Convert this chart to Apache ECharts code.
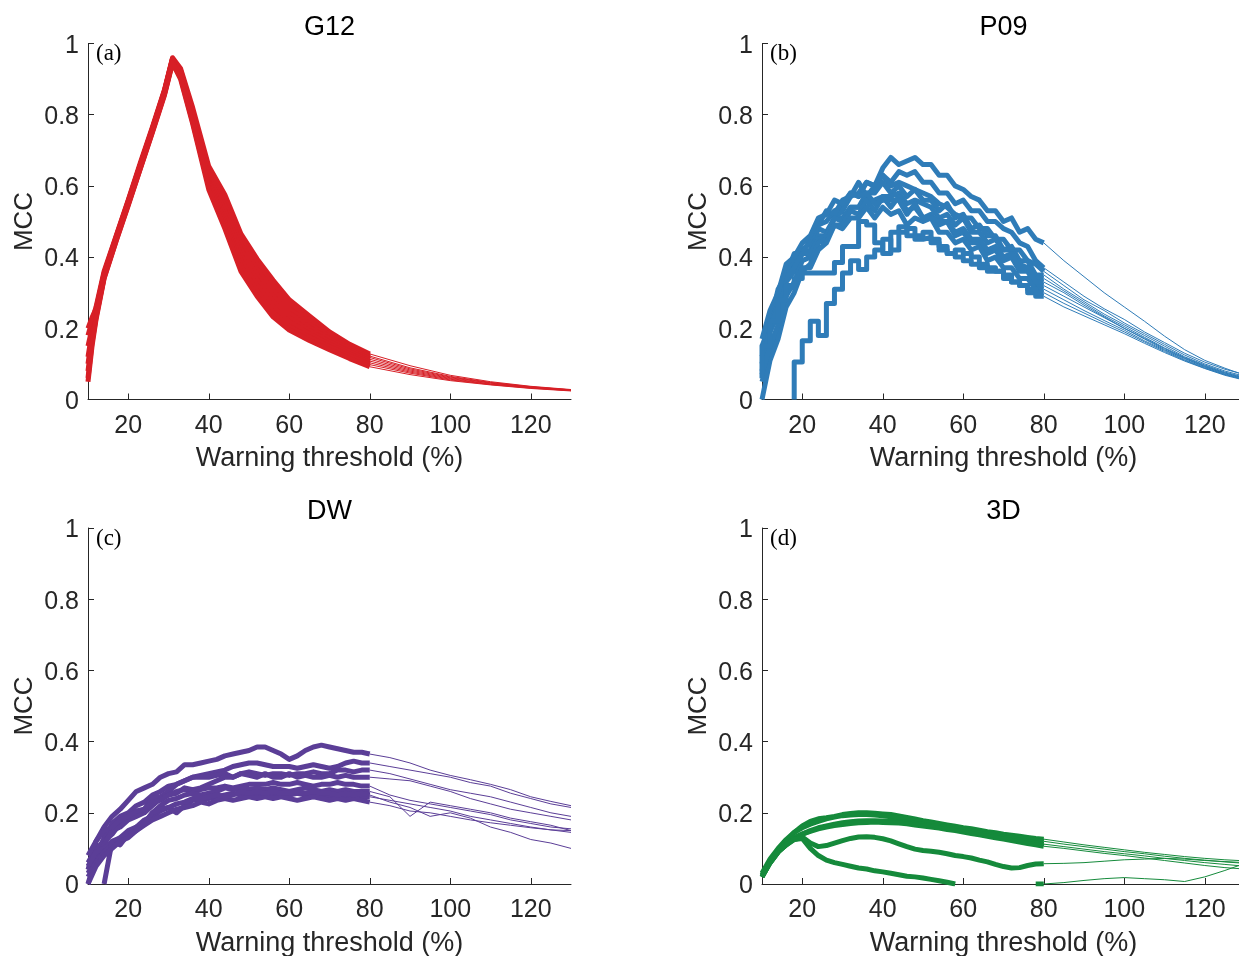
<!DOCTYPE html>
<html>
<head>
<meta charset="utf-8">
<script src="https://cdn.jsdelivr.net/npm/echarts@6/dist/echarts.min.js"></script>
<style>
  html, body { margin: 0; padding: 0; background: #fff; }
  #chart { width: 1239px; height: 956px; }
</style>
</head>
<body>
<div id="chart"></div>
<script>
// ---------- data ----------
// x positions (warning threshold, %) for the thick (10-80) and thin (80-130) parts
const xThickG12 = [10, 11, 12, 14, 17, 20, 23, 26, 29, 31, 33, 36, 40, 44, 48, 52, 56, 60, 65, 70, 75, 80];
const xThinG12 = [80, 90, 100, 110, 120, 130];
const xThick = [10, 12, 14, 16, 18, 20, 22, 24, 26, 28, 30, 32, 34, 36, 38, 40, 42, 44, 46, 48, 50, 52, 54, 56, 58, 60, 62, 64, 66, 68, 70, 72, 74, 76, 78, 80];
const xThin = [80, 85, 90, 95, 100, 105, 110, 115, 120, 125, 130];
const xTicks = [20, 40, 60, 80, 100, 120];

// G12 - MCC curves
const g12Thick = [
  [0.18, 0.22, 0.26, 0.36, 0.46, 0.56, 0.665, 0.765, 0.87, 0.96, 0.93, 0.82, 0.655, 0.575, 0.465, 0.395, 0.335, 0.28, 0.235, 0.19, 0.155, 0.128],
  [0.15, 0.2, 0.25, 0.355, 0.458, 0.558, 0.66, 0.762, 0.868, 0.958, 0.925, 0.81, 0.645, 0.56, 0.45, 0.38, 0.32, 0.268, 0.222, 0.183, 0.15, 0.122],
  [0.12, 0.19, 0.245, 0.35, 0.455, 0.555, 0.658, 0.76, 0.865, 0.955, 0.92, 0.8, 0.635, 0.545, 0.435, 0.365, 0.305, 0.255, 0.212, 0.176, 0.145, 0.118],
  [0.1, 0.18, 0.24, 0.348, 0.452, 0.553, 0.655, 0.758, 0.862, 0.952, 0.915, 0.795, 0.625, 0.53, 0.42, 0.35, 0.29, 0.242, 0.202, 0.17, 0.14, 0.113],
  [0.08, 0.17, 0.235, 0.345, 0.45, 0.55, 0.652, 0.755, 0.86, 0.95, 0.91, 0.79, 0.615, 0.515, 0.405, 0.335, 0.275, 0.23, 0.193, 0.162, 0.134, 0.108],
  [0.2, 0.23, 0.255, 0.352, 0.455, 0.556, 0.66, 0.76, 0.866, 0.957, 0.92, 0.8, 0.61, 0.5, 0.39, 0.32, 0.26, 0.218, 0.184, 0.155, 0.128, 0.103],
  [0.06, 0.16, 0.23, 0.342, 0.447, 0.548, 0.65, 0.752, 0.858, 0.948, 0.905, 0.78, 0.6, 0.49, 0.375, 0.305, 0.245, 0.205, 0.175, 0.148, 0.122, 0.098],
  [0.05, 0.15, 0.225, 0.34, 0.445, 0.545, 0.648, 0.75, 0.855, 0.945, 0.9, 0.775, 0.59, 0.48, 0.36, 0.29, 0.232, 0.195, 0.166, 0.14, 0.115, 0.092]
];
const g12Thin = [
  [0.128, 0.095, 0.068, 0.05, 0.037, 0.028],
  [0.122, 0.089, 0.065, 0.048, 0.036, 0.027],
  [0.118, 0.086, 0.063, 0.047, 0.035, 0.027],
  [0.113, 0.083, 0.061, 0.046, 0.034, 0.026],
  [0.108, 0.08, 0.059, 0.044, 0.033, 0.026],
  [0.103, 0.077, 0.057, 0.043, 0.033, 0.025],
  [0.098, 0.074, 0.055, 0.042, 0.032, 0.025],
  [0.092, 0.07, 0.053, 0.041, 0.031, 0.024]
];

// P09 - MCC curves (the last two are stepped)
const p09Thick = [
  [0.12, 0.2, 0.28, 0.35, 0.38, 0.42, 0.44, 0.49, 0.5, 0.53, 0.54, 0.58, 0.57, 0.61, 0.6, 0.65, 0.68, 0.66, 0.67, 0.68, 0.66, 0.66, 0.63, 0.63, 0.6, 0.59, 0.57, 0.56, 0.53, 0.53, 0.5, 0.51, 0.47, 0.48, 0.45, 0.44],
  [0.08, 0.19, 0.24, 0.33, 0.36, 0.41, 0.42, 0.48, 0.47, 0.51, 0.53, 0.57, 0.58, 0.61, 0.6, 0.63, 0.61, 0.64, 0.63, 0.64, 0.61, 0.61, 0.58, 0.58, 0.55, 0.56, 0.53, 0.53, 0.5, 0.5, 0.48, 0.47, 0.44, 0.43, 0.39, 0.37],
  [0.15, 0.21, 0.31, 0.35, 0.41, 0.41, 0.45, 0.49, 0.53, 0.52, 0.56, 0.57, 0.61, 0.57, 0.6, 0.63, 0.6, 0.61, 0.6, 0.59, 0.58, 0.57, 0.55, 0.54, 0.52, 0.51, 0.51, 0.48, 0.48, 0.45, 0.45, 0.42, 0.42, 0.39, 0.38, 0.36],
  [0.05, 0.13, 0.19, 0.29, 0.33, 0.39, 0.4, 0.46, 0.46, 0.51, 0.51, 0.54, 0.54, 0.58, 0.58, 0.61, 0.58, 0.6, 0.57, 0.59, 0.56, 0.56, 0.53, 0.55, 0.51, 0.52, 0.48, 0.49, 0.46, 0.46, 0.42, 0.43, 0.39, 0.39, 0.35, 0.35],
  [0.1, 0.2, 0.26, 0.34, 0.37, 0.41, 0.41, 0.45, 0.46, 0.51, 0.5, 0.54, 0.54, 0.56, 0.56, 0.57, 0.57, 0.58, 0.55, 0.56, 0.55, 0.54, 0.51, 0.52, 0.49, 0.51, 0.47, 0.47, 0.44, 0.45, 0.42, 0.42, 0.38, 0.37, 0.34, 0.34],
  [0.0, 0.11, 0.17, 0.26, 0.3, 0.36, 0.38, 0.44, 0.45, 0.49, 0.49, 0.53, 0.52, 0.56, 0.53, 0.57, 0.54, 0.57, 0.53, 0.54, 0.51, 0.52, 0.49, 0.5, 0.46, 0.47, 0.44, 0.44, 0.41, 0.42, 0.39, 0.4, 0.36, 0.36, 0.32, 0.32],
  [0.07, 0.15, 0.21, 0.3, 0.32, 0.37, 0.37, 0.42, 0.44, 0.49, 0.48, 0.51, 0.51, 0.54, 0.51, 0.54, 0.52, 0.53, 0.49, 0.51, 0.5, 0.51, 0.47, 0.47, 0.44, 0.45, 0.42, 0.43, 0.39, 0.4, 0.37, 0.37, 0.34, 0.34, 0.31, 0.31],
  [0.17, 0.25, 0.3, 0.38, 0.4, 0.44, 0.46, 0.51, 0.52, 0.56, 0.55, 0.58, 0.57, 0.58, 0.55, 0.56, 0.56, 0.56, 0.52, 0.55, 0.51, 0.51, 0.5, 0.5, 0.47, 0.48, 0.45, 0.45, 0.42, 0.43, 0.4, 0.41, 0.37, 0.37, 0.33, 0.33],
  [null, null, null, null, 0, 0.105, 0.165, 0.22, 0.18, 0.27, 0.31, 0.355, 0.39, 0.365, 0.4, 0.42, 0.45, 0.42, 0.47, 0.48, 0.46, 0.47, 0.45, 0.43, 0.41, 0.42, 0.41, 0.4, 0.38, 0.37, 0.36, 0.35, 0.33, 0.32, 0.3, 0.29],
  [0.06, 0.15, 0.22, 0.28, 0.32, 0.34, 0.355, 0.355, 0.355, 0.355, 0.385, 0.43, 0.43, 0.5, 0.49, 0.44, 0.41, 0.47, 0.485, 0.46, 0.45, 0.455, 0.44, 0.42, 0.41, 0.4, 0.39, 0.38, 0.37, 0.36, 0.36, 0.34, 0.33, 0.32, 0.31, 0.3]
];
const p09Stepped = [false, false, false, false, false, false, false, false, true, true];
const p09Thin = [
  [0.44, 0.39, 0.345, 0.3, 0.26, 0.22, 0.178, 0.14, 0.11, 0.088, 0.068],
  [0.37, 0.33, 0.29, 0.255, 0.225, 0.19, 0.16, 0.13, 0.105, 0.085, 0.07],
  [0.36, 0.32, 0.28, 0.25, 0.215, 0.185, 0.155, 0.125, 0.1, 0.08, 0.065],
  [0.35, 0.31, 0.275, 0.24, 0.21, 0.18, 0.15, 0.12, 0.097, 0.077, 0.062],
  [0.34, 0.305, 0.27, 0.235, 0.205, 0.175, 0.145, 0.118, 0.095, 0.075, 0.06],
  [0.32, 0.29, 0.26, 0.23, 0.2, 0.17, 0.14, 0.115, 0.092, 0.072, 0.058],
  [0.31, 0.28, 0.25, 0.222, 0.195, 0.165, 0.138, 0.112, 0.09, 0.07, 0.056],
  [0.33, 0.3, 0.265, 0.232, 0.2, 0.172, 0.143, 0.116, 0.093, 0.074, 0.059],
  [0.29, 0.26, 0.235, 0.21, 0.185, 0.158, 0.132, 0.108, 0.087, 0.068, 0.054],
  [0.3, 0.27, 0.243, 0.216, 0.19, 0.162, 0.135, 0.11, 0.088, 0.07, 0.055]
];

// DW - MCC curves
const dwThick = [
  [0.04, 0.12, 0.16, 0.19, 0.21, 0.235, 0.26, 0.27, 0.28, 0.3, 0.31, 0.315, 0.335, 0.335, 0.34, 0.345, 0.35, 0.36, 0.365, 0.37, 0.375, 0.385, 0.385, 0.375, 0.365, 0.35, 0.36, 0.375, 0.385, 0.39, 0.385, 0.38, 0.375, 0.37, 0.37, 0.365],
  [0.0, 0.08, 0.13, 0.17, 0.19, 0.2, 0.22, 0.23, 0.25, 0.26, 0.275, 0.28, 0.29, 0.3, 0.305, 0.31, 0.315, 0.32, 0.33, 0.335, 0.34, 0.34, 0.335, 0.33, 0.33, 0.33, 0.325, 0.33, 0.335, 0.33, 0.325, 0.33, 0.34, 0.345, 0.34, 0.34],
  [0.06, 0.1, 0.12, 0.14, 0.17, 0.19, 0.2, 0.21, 0.24, 0.245, 0.26, 0.28, 0.29, 0.3, 0.3, 0.3, 0.305, 0.31, 0.3, 0.31, 0.315, 0.31, 0.305, 0.31, 0.31, 0.305, 0.31, 0.31, 0.315, 0.31, 0.31, 0.32, 0.32, 0.315, 0.32, 0.32],
  [0.03, 0.07, 0.11, 0.15, 0.16, 0.18, 0.19, 0.2, 0.22, 0.24, 0.25, 0.255, 0.27, 0.265, 0.27, 0.28, 0.29, 0.3, 0.3, 0.31, 0.305, 0.3, 0.31, 0.3, 0.3, 0.31, 0.3, 0.305, 0.3, 0.3, 0.305, 0.3, 0.305, 0.3, 0.3, 0.3],
  [0.08, 0.12, 0.15, 0.16, 0.18, 0.19, 0.205, 0.21, 0.23, 0.235, 0.25, 0.26, 0.265, 0.26, 0.265, 0.27, 0.27, 0.275, 0.27, 0.275, 0.28, 0.28, 0.28, 0.285, 0.28, 0.28, 0.285, 0.28, 0.275, 0.28, 0.28, 0.285, 0.28, 0.28, 0.275, 0.275],
  [0.05, 0.09, 0.1, 0.12, 0.11, 0.14, 0.16, 0.17, 0.2, 0.22, 0.235, 0.24, 0.25, 0.255, 0.25, 0.255, 0.26, 0.27, 0.265, 0.27, 0.265, 0.27, 0.265, 0.27, 0.265, 0.26, 0.265, 0.27, 0.265, 0.26, 0.265, 0.26, 0.265, 0.26, 0.26, 0.26],
  [0.02, 0.06, 0.09, 0.11, 0.13, 0.15, 0.16, 0.18, 0.19, 0.205, 0.215, 0.2, 0.22, 0.235, 0.24, 0.24, 0.245, 0.25, 0.255, 0.25, 0.255, 0.25, 0.255, 0.25, 0.255, 0.25, 0.255, 0.25, 0.245, 0.25, 0.245, 0.25, 0.245, 0.24, 0.245, 0.245],
  [null, null, 0.0, 0.12, 0.13, 0.14, 0.15, 0.165, 0.18, 0.19, 0.2, 0.21, 0.215, 0.22, 0.23, 0.225, 0.235, 0.24, 0.235, 0.24, 0.245, 0.24, 0.245, 0.24, 0.245, 0.24, 0.235, 0.24, 0.245, 0.24, 0.235, 0.24, 0.235, 0.24, 0.235, 0.23],
  [0.0, 0.05, 0.08, 0.1, 0.12, 0.13, 0.15, 0.17, 0.2, 0.21, 0.215, 0.225, 0.23, 0.24, 0.24, 0.245, 0.25, 0.245, 0.25, 0.26, 0.255, 0.26, 0.255, 0.26, 0.255, 0.255, 0.26, 0.255, 0.26, 0.255, 0.255, 0.25, 0.255, 0.25, 0.255, 0.25]
];
const dwThin = [
  [0.365, 0.355, 0.34, 0.32, 0.305, 0.293, 0.28, 0.265, 0.245, 0.232, 0.22],
  [0.34, 0.33, 0.32, 0.31, 0.3, 0.285, 0.275, 0.255, 0.24, 0.225, 0.215],
  [0.32, 0.31, 0.295, 0.28, 0.265, 0.255, 0.245, 0.23, 0.215, 0.2, 0.19],
  [0.3, 0.295, 0.29, 0.275, 0.26, 0.24, 0.225, 0.21, 0.2, 0.19, 0.18],
  [0.275, 0.25, 0.235, 0.225, 0.215, 0.205, 0.195, 0.18, 0.17, 0.16, 0.155],
  [0.26, 0.245, 0.19, 0.23, 0.22, 0.21, 0.2, 0.185, 0.175, 0.165, 0.15],
  [0.245, 0.235, 0.225, 0.215, 0.205, 0.19, 0.18, 0.17, 0.16, 0.152, 0.145],
  [0.23, 0.22, 0.205, 0.2, 0.19, 0.18, 0.172, 0.165, 0.158, 0.152, 0.15],
  [0.25, 0.23, 0.215, 0.19, 0.2, 0.185, 0.16, 0.145, 0.125, 0.115, 0.1]
];

// 3D - MCC curves
const d3Thick = [
  [0.02, 0.06, 0.09, 0.12, 0.145, 0.163, 0.176, 0.183, 0.186, 0.19, 0.195, 0.198, 0.2, 0.2, 0.199, 0.197, 0.195, 0.191, 0.187, 0.183, 0.178, 0.174, 0.17, 0.166, 0.162, 0.158, 0.155, 0.151, 0.147, 0.144, 0.14, 0.137, 0.134, 0.131, 0.128, 0.126],
  [0.03, 0.07, 0.1, 0.125, 0.145, 0.158, 0.168, 0.176, 0.183, 0.188, 0.192, 0.194, 0.195, 0.195, 0.194, 0.192, 0.189, 0.186, 0.182, 0.178, 0.174, 0.17, 0.166, 0.162, 0.158, 0.154, 0.15, 0.146, 0.143, 0.139, 0.136, 0.132, 0.129, 0.126, 0.123, 0.12],
  [0.02, 0.06, 0.09, 0.11, 0.13, 0.14, 0.15, 0.158, 0.163, 0.168, 0.172, 0.175, 0.177, 0.178, 0.178, 0.177, 0.176, 0.175, 0.173, 0.17, 0.167, 0.164, 0.161, 0.158, 0.154, 0.151, 0.147, 0.143, 0.139, 0.135, 0.131, 0.127, 0.123, 0.119, 0.115, 0.112],
  [0.025, 0.065, 0.095, 0.115, 0.13, 0.14, 0.148, 0.155, 0.16, 0.164, 0.167, 0.17, 0.172, 0.173, 0.174, 0.173, 0.172, 0.171, 0.169, 0.166, 0.163, 0.16, 0.157, 0.153, 0.15, 0.146, 0.142, 0.138, 0.134, 0.13, 0.126, 0.122, 0.118, 0.114, 0.11, 0.106],
  [0.02, 0.06, 0.09, 0.11, 0.125, 0.132, 0.115, 0.105, 0.108, 0.115, 0.122, 0.128, 0.132, 0.133, 0.131, 0.127, 0.121, 0.113, 0.105, 0.098, 0.094, 0.092, 0.089, 0.085, 0.08, 0.077, 0.073, 0.067, 0.062, 0.055, 0.049, 0.045, 0.046, 0.052, 0.056, 0.057],
  [0.02, 0.06, 0.09, 0.11, 0.125, 0.128, 0.1, 0.08, 0.067, 0.06, 0.055, 0.05, 0.045, 0.042, 0.037, 0.034, 0.03, 0.026, 0.022, 0.02, 0.017, 0.013, 0.009, 0.005, 0.0, null, null, null, null, null, null, null, null, null, 0, 0]
];
const d3Thin = [
  [0.126, 0.118, 0.11, 0.103, 0.096, 0.089, 0.083, 0.077, 0.072, 0.068, 0.065],
  [0.12, 0.112, 0.105, 0.098, 0.091, 0.085, 0.078, 0.072, 0.067, 0.062, 0.058],
  [0.112, 0.105, 0.098, 0.091, 0.085, 0.079, 0.072, 0.066, 0.06, 0.055, 0.05],
  [0.106, 0.1, 0.093, 0.086, 0.08, 0.073, 0.066, 0.059, 0.052, 0.046, 0.042],
  [0.057, 0.058, 0.06, 0.064, 0.068, 0.07, 0.072, 0.07, 0.066, 0.063, 0.06],
  [0, 0.004, 0.01, 0.015, 0.018, 0.015, 0.012, 0.007, 0.02, 0.038, 0.058]
];

// ---------- styling ----------
const SANS = '"Liberation Sans", Arial, Helvetica, sans-serif';
const SERIF = '"Liberation Serif", "Times New Roman", serif';
const AXIS_COLOR = '#262626';
const TEXT_COLOR = '#262626';
const COLORS = ['#d71f26', '#2f7cb8', '#5b3e97', '#158a3b'];
const panels = [
  { title: 'G12', tag: '(a)', left: 88, top: 43.5, xs: xThickG12, xt: xThinG12, thick: g12Thick, thin: g12Thin },
  { title: 'P09', tag: '(b)', left: 762, top: 43.5, xs: xThick, xt: xThin, thick: p09Thick, thin: p09Thin, stepped: p09Stepped },
  { title: 'DW', tag: '(c)', left: 88, top: 528, xs: xThick, xt: xThin, thick: dwThick, thin: dwThin },
  { title: '3D', tag: '(d)', left: 762, top: 528, xs: xThick, xt: xThin, thick: d3Thick, thin: d3Thin }
];
const GRID_W = 483, GRID_H = 356;

function toPoints(xs, ys, dropGaps) {
  const pts = [];
  xs.forEach((x, i) => {
    const y = ys[i];
    if (y === null) { if (!dropGaps) pts.push([x, '-']); }
    else pts.push([x, y]);
  });
  return pts;
}

function lineSeries(gi, data, color, width, step) {
  return {
    type: 'line', xAxisIndex: gi, yAxisIndex: gi, data,
    showSymbol: false, symbol: 'none', silent: true, clip: true,
    step: step ? 'start' : false, smooth: false, connectNulls: false,
    animation: false, z: 3,
    lineStyle: { color, width, join: 'round', cap: 'butt' },
    emphasis: { disabled: true }
  };
}

const grids = [], xAxes = [], yAxes = [], titles = [], series = [];
panels.forEach((p, gi) => {
  grids.push({ left: p.left, top: p.top, width: GRID_W, height: GRID_H, containLabel: false, outerBoundsMode: 'none' });
  xAxes.push({
    type: 'value', gridIndex: gi, min: 10, max: 130,
    axisLine: { show: true, onZero: false, lineStyle: { color: AXIS_COLOR, width: 1 } },
    axisTick: { show: true, inside: true, length: 6, customValues: xTicks, lineStyle: { color: AXIS_COLOR, width: 1 } },
    axisLabel: { customValues: xTicks, color: TEXT_COLOR, fontSize: 25, fontFamily: SANS, margin: 14 },
    splitLine: { show: false },
    name: 'Warning threshold (%)', nameLocation: 'middle', nameGap: 46, nameMoveOverlap: false,
    nameTextStyle: { color: TEXT_COLOR, fontSize: 27, fontFamily: SANS }
  });
  yAxes.push({
    type: 'value', gridIndex: gi, min: 0, max: 1, interval: 0.2,
    axisLine: { show: true, onZero: false, lineStyle: { color: AXIS_COLOR, width: 1 } },
    axisTick: { show: true, inside: true, length: 6, lineStyle: { color: AXIS_COLOR, width: 1 } },
    // digits sit slightly below the tick line, as in the original figure
    axisLabel: { color: TEXT_COLOR, fontSize: 25, fontFamily: SANS, margin: 9, verticalAlign: 'top', lineHeight: 5 },
    splitLine: { show: false },
    name: 'MCC', nameLocation: 'middle', nameGap: 50, nameRotate: 90, nameMoveOverlap: false,
    nameTextStyle: { color: TEXT_COLOR, fontSize: 26, fontFamily: SANS }
  });
  titles.push({
    text: p.title, left: p.left + GRID_W / 2, top: 14 + (p.top - 43.5), textAlign: 'center', padding: 0,
    textStyle: { color: '#000', fontSize: 27, fontWeight: 'normal', fontFamily: SANS }
  });
  titles.push({
    text: p.tag, left: p.left + 8, top: p.top - 1, padding: 0,
    textStyle: { color: '#000', fontSize: 23, fontWeight: 'normal', fontFamily: SERIF }
  });
  const color = COLORS[gi];
  p.thick.forEach((ys, k) => {
    const stepped = p.stepped ? p.stepped[k] : false;
    series.push(lineSeries(gi, toPoints(p.xs, ys, stepped), color, 5, stepped));
  });
  p.thin.forEach((ys) => {
    series.push(lineSeries(gi, toPoints(p.xt, ys, false), color, 1, false));
  });
});

const chart = echarts.init(document.getElementById('chart'), null, { renderer: 'canvas' });
chart.setOption({
  backgroundColor: '#ffffff',
  animation: false,
  title: titles,
  grid: grids,
  xAxis: xAxes,
  yAxis: yAxes,
  tooltip: { show: false },
  series
});
</script>
</body>
</html>
